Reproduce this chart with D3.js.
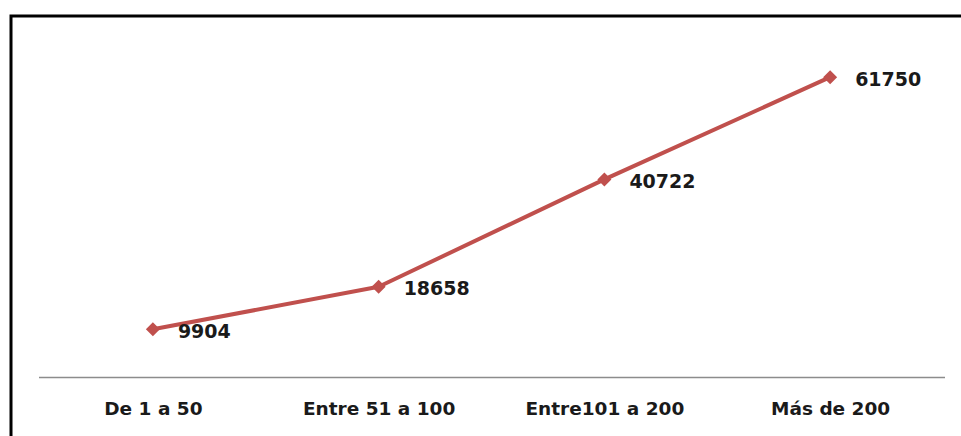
<!DOCTYPE html>
<html>
<head>
<meta charset="utf-8">
<script src="https://cdn.jsdelivr.net/npm/d3@7"></script>
<style>
  html, body { margin: 0; padding: 0; background: #fff; }
  svg { display: block; }
</style>
</head>
<body>
<svg id="chart" width="961" height="436"></svg>
<script>
// Number of households by size band
const categories = ["De 1 a 50", "Entre 51 a 100", "Entre101 a 200", "Más de 200"];
const values = [9904, 18658, 40722, 61750];
const yDomain = [0, 70000];

const svg = d3.select("#chart");
const W = 961, H = 436;

// Outer frame (extends past the right and bottom edges)
svg.append("rect")
  .attr("x", 11).attr("y", 16)
  .attr("width", W + 20).attr("height", H + 20)
  .attr("fill", "#fff")
  .attr("stroke", "#000")
  .attr("stroke-width", 3);

const plot = { left: 40, right: 943, top: 37, bottom: 377.5 };

const x = d3.scalePoint()
  .domain(categories)
  .range([plot.left, plot.right])
  .padding(0.5);

const y = d3.scaleLinear()
  .domain(yDomain)
  .range([plot.bottom, plot.top]);

// Category axis
const xAxis = d3.axisBottom(x).tickSize(0).tickPadding(24);
const gx = svg.append("g")
  .attr("transform", `translate(0,${plot.bottom})`)
  .call(xAxis);
gx.select(".domain")
  .attr("stroke", "#8c8c8c")
  .attr("stroke-width", 1.6)
  .attr("d", `M${plot.left - 1},0H${plot.right + 2}`);
gx.selectAll(".tick text")
  .attr("fill", "#1a1a1a")
  .attr("font-family", "DejaVu Sans, sans-serif")
  .attr("font-weight", "bold")
  .attr("font-size", 18.5);

const pts = categories.map((c, i) => ({ c, v: values[i] }));

// Series line
svg.append("path")
  .datum(pts)
  .attr("fill", "none")
  .attr("stroke", "#C0504D")
  .attr("stroke-width", 4)
  .attr("stroke-linejoin", "round")
  .attr("d", d3.line().x(d => x(d.c)).y(d => y(d.v)));

// Diamond markers
svg.selectAll(".marker")
  .data(pts)
  .join("path")
  .attr("class", "marker")
  .attr("transform", d => `translate(${x(d.c)},${y(d.v)})`)
  .attr("d", d3.symbol(d3.symbolDiamond2, 125)())
  .attr("fill", "#C0504D");

// Value labels
svg.selectAll(".vlabel")
  .data(pts)
  .join("text")
  .attr("class", "vlabel")
  .attr("x", d => x(d.c) + 25)
  .attr("y", d => y(d.v) + 3)
  .attr("dominant-baseline", "middle")
  .attr("fill", "#1a1a1a")
  .attr("font-family", "DejaVu Sans, sans-serif")
  .attr("font-weight", "bold")
  .attr("font-size", 19)
  .text(d => d.v);
</script>
</body>
</html>
